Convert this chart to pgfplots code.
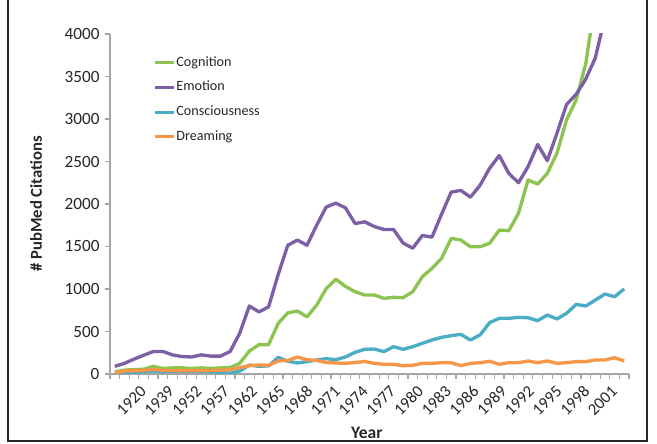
\documentclass[border=0pt]{standalone}
\usepackage{fontspec}
\setmainfont{Carlito}
\usepackage{pgfplots}
\usepackage{pgfplotstable}
\pgfplotsset{compat=1.18}
\definecolor{cogc}{HTML}{8DC350}
\definecolor{emoc}{HTML}{7D5FA6}
\definecolor{conc}{HTML}{4BACC6}
\definecolor{drec}{HTML}{F79646}
\definecolor{axc}{HTML}{A6A6A6}
\definecolor{txc}{HTML}{262626}

\pgfplotstableread{
i v
0 27
1 45
2 52
3 55
4 90
5 65
6 72
7 72
8 65
9 72
10 65
11 72
12 75
13 125
14 270
15 345
16 345
17 595
18 720
19 740
20 672
21 810
22 1005
23 1115
24 1030
25 968
26 929
27 929
28 890
29 902
30 898
31 968
32 1145
33 1243
34 1360
35 1595
36 1576
37 1497
38 1497
39 1537
40 1693
41 1686
42 1890
43 2282
44 2235
45 2360
46 2596
47 2988
48 3223
49 3650
50 4400
51 4800
52 5200
53 5600
}\cognition

\pgfplotstableread{
i v
0 90
1 125
2 175
3 220
4 265
5 265
6 225
7 205
8 200
9 225
10 210
11 210
12 265
13 480
14 800
15 730
16 790
17 1170
18 1515
19 1575
20 1515
21 1750
22 1965
23 2010
24 1955
25 1770
26 1790
27 1735
28 1700
29 1700
30 1540
31 1480
32 1630
33 1610
34 1880
35 2140
36 2160
37 2080
38 2220
39 2420
40 2570
41 2360
42 2250
43 2440
44 2700
45 2510
46 2830
47 3170
48 3290
49 3470
50 3720
51 4200
52 4500
53 4800
}\emotion

\pgfplotstableread{
i v
0 15
1 20
2 25
3 25
4 35
5 25
6 30
7 30
8 30
9 30
10 25
11 20
12 10
13 35
14 105
15 90
16 95
17 195
18 150
19 130
20 145
21 165
22 180
23 168
24 200
25 255
26 290
27 294
28 263
29 321
30 290
31 321
32 361
33 400
34 431
35 451
36 466
37 400
38 459
39 604
40 655
41 655
42 666
43 662
44 627
45 694
46 647
47 713
48 819
49 800
50 870
51 941
52 909
53 1000
}\consciousness

\pgfplotstableread{
i v
0 16
1 35
2 40
3 42
4 55
5 42
6 40
7 40
8 40
9 40
10 42
11 45
12 50
13 75
14 98
15 106
16 102
17 153
18 160
19 200
20 168
21 160
22 135
23 130
24 125
25 135
26 147
27 125
28 114
29 114
30 98
31 102
32 125
33 125
34 133
35 133
36 98
37 125
38 133
39 149
40 114
41 133
42 133
43 153
44 133
45 153
46 125
47 133
48 145
49 145
50 165
51 165
52 192
53 153
}\dreaming

\begin{document}
\begin{tikzpicture}
\path[use as bounding box] (0pt,0pt) rectangle (394.2pt,266.4pt);
\draw[line width=0.9pt, color=black!85] (4.8pt,266.4pt) -- (4.8pt,1.8pt) -- (388.2pt,1.8pt) -- (388.2pt,266.4pt);
\begin{axis}[
  at={(66pt,42pt)}, anchor=south west,
  scale only axis, width=311.4pt, height=204pt,
  xmin=-0.5, xmax=53.5, ymin=0, ymax=4000,
  axis x line*=bottom, axis y line*=left,
  axis line style={draw=axc, line width=0.8pt, -},
  tick align=outside, major tick length=2.8pt,
  tick style={draw=axc, line width=0.7pt},
  xtick={-0.5,0.5,...,53.5}, xticklabels={\empty},
  extra x ticks={0.437,3.320,6.203,9.086,11.969,14.852,17.735,20.618,23.501,26.384,29.267,32.150,35.033,37.916,40.799,43.682,46.565,49.448},
  extra x tick labels={1920,1939,1952,1957,1962,1965,1968,1971,1974,1977,1980,1983,1986,1989,1992,1995,1998,2001},
  extra x tick style={tick style={draw=none}},
  xticklabel style={font=\fontsize{10}{12}\selectfont, color=txc, rotate=45, anchor=center, yshift=-14.5pt, xshift=-4pt},
  ytick={0,500,...,4000},
  yticklabels={0,500,1000,1500,2000,2500,3000,3500,4000},
  yticklabel style={font=\fontsize{10.3}{12}\selectfont, color=txc},
  xlabel={\textbf{Year}}, ylabel={\textbf{\# PubMed Citations}},
  xlabel style={font=\fontsize{10.5}{12}\selectfont, color=txc, at={(axis description cs:0.495,-0.1735)}, anchor=center},
  ylabel style={font=\fontsize{10}{12}\selectfont, color=txc, at={(axis description cs:-0.1426,0.5)}, anchor=center},
  legend style={draw=none, fill=none, at={(axis description cs:0.083,0.945)}, anchor=north west,
    font=\fontsize{8.5}{10}\selectfont, text=txc, inner sep=0pt, row sep=3.5pt,
    nodes={inner xsep=0.5pt}},
  legend cell align=left,
  legend image code/.code={\draw[#1, line width=1.8pt] (0pt,0pt) -- (11.5pt,0pt);},
  every axis plot/.append style={line width=2pt, line join=round},
]
\addplot[cogc, no markers] table[x=i,y=v] {\cognition};
\addlegendentry{Cognition}
\addplot[emoc, no markers] table[x=i,y=v] {\emotion};
\addlegendentry{Emotion}
\addplot[conc, no markers] table[x=i,y=v] {\consciousness};
\addlegendentry{Consciousness}
\addplot[drec, no markers] table[x=i,y=v] {\dreaming};
\addlegendentry{Dreaming}
\end{axis}
\end{tikzpicture}
\end{document}
